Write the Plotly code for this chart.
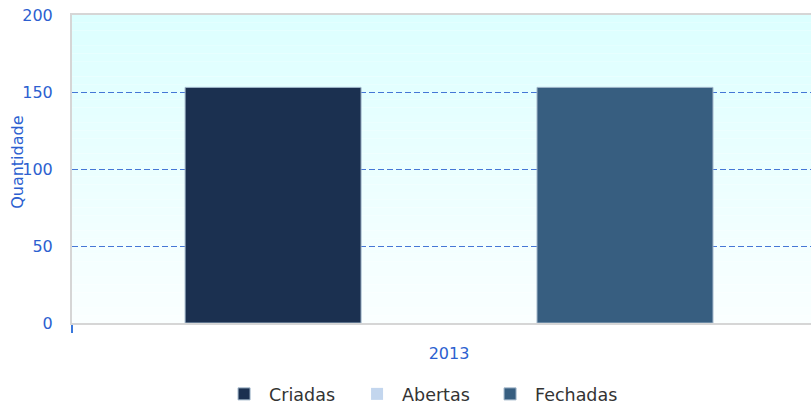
import plotly.graph_objects as go

categories = ["2013"]
series_names = ["Criadas", "Abertas", "Fechadas"]
series_values = [[153], [0], [153]]
series_colors = ["#1b3050", "#c3d6ee", "#375e80"]
outline_widths = [1, 0, 1]
y_ticks = [0, 50, 100, 150, 200]

fig = go.Figure()
for name, vals, col, lw in zip(series_names, series_values, series_colors, outline_widths):
    fig.add_trace(go.Bar(
        x=categories, y=vals, name=name,
        marker=dict(color=col, line=dict(color="#9fb4c8", width=lw)),
    ))

# gradient background strips
n = 40
top = (220, 255, 255)
bot = (250, 255, 255)
shapes = []
for i in range(n):
    t = i / (n - 1)
    c = tuple(int(round(top[k] + (bot[k] - top[k]) * t)) for k in range(3))
    shapes.append(dict(type="rect", xref="paper", yref="paper",
                       x0=0, x1=1, y0=1 - (i + 1) / n, y1=1 - i / n,
                       fillcolor="rgb(%d,%d,%d)" % c, line=dict(width=0),
                       layer="below"))

blue = "#2c5fd0"
fig.update_layout(
    width=811, height=412,
    margin=dict(l=72, r=0, t=15, b=88),
    paper_bgcolor="white", plot_bgcolor="rgba(0,0,0,0)",
    barmode="group", bargap=0.3, bargroupgap=0,
    font=dict(family="DejaVu Sans", size=16, color=blue),
    shapes=shapes,
    showlegend=True,
    legend=dict(orientation="h", x=0.199, xanchor="left", y=-0.23, yanchor="middle",
                font=dict(color="#333333", size=17.5, family="DejaVu Sans"),
                itemwidth=40, entrywidth=78, traceorder="normal"),
    annotations=[dict(text="Quantidade", xref="paper", yref="paper", x=0, y=0.52,
                      xshift=-54, xanchor="center", yanchor="middle", textangle=-90,
                      showarrow=False,
                      font=dict(color=blue, size=16, family="DejaVu Sans"))],
)
fig.update_xaxes(type="category", range=[-0.5, 0.48], showline=True,
                 linecolor="#d6d6d6", linewidth=2, mirror=True, showgrid=False,
                 ticks="outside", tickson="boundaries", ticklen=8, tickwidth=2,
                 tickcolor="#3a78dc",
                 tickfont=dict(color=blue, size=16), ticklabelstandoff=15)
fig.update_yaxes(range=[0, 200], tickvals=y_ticks, showline=True, linecolor="#d6d6d6",
                 linewidth=2, showgrid=True, gridcolor="#4577d6", griddash="6px,3px",
                 gridwidth=1.4, zeroline=False, tickfont=dict(color=blue, size=16),
                 ticklabelstandoff=14, ticklabeloverflow="allow")
fig.write_html("out.html", config={"displayModeBar": False},
               post_script="document.body.style.margin='0';")
